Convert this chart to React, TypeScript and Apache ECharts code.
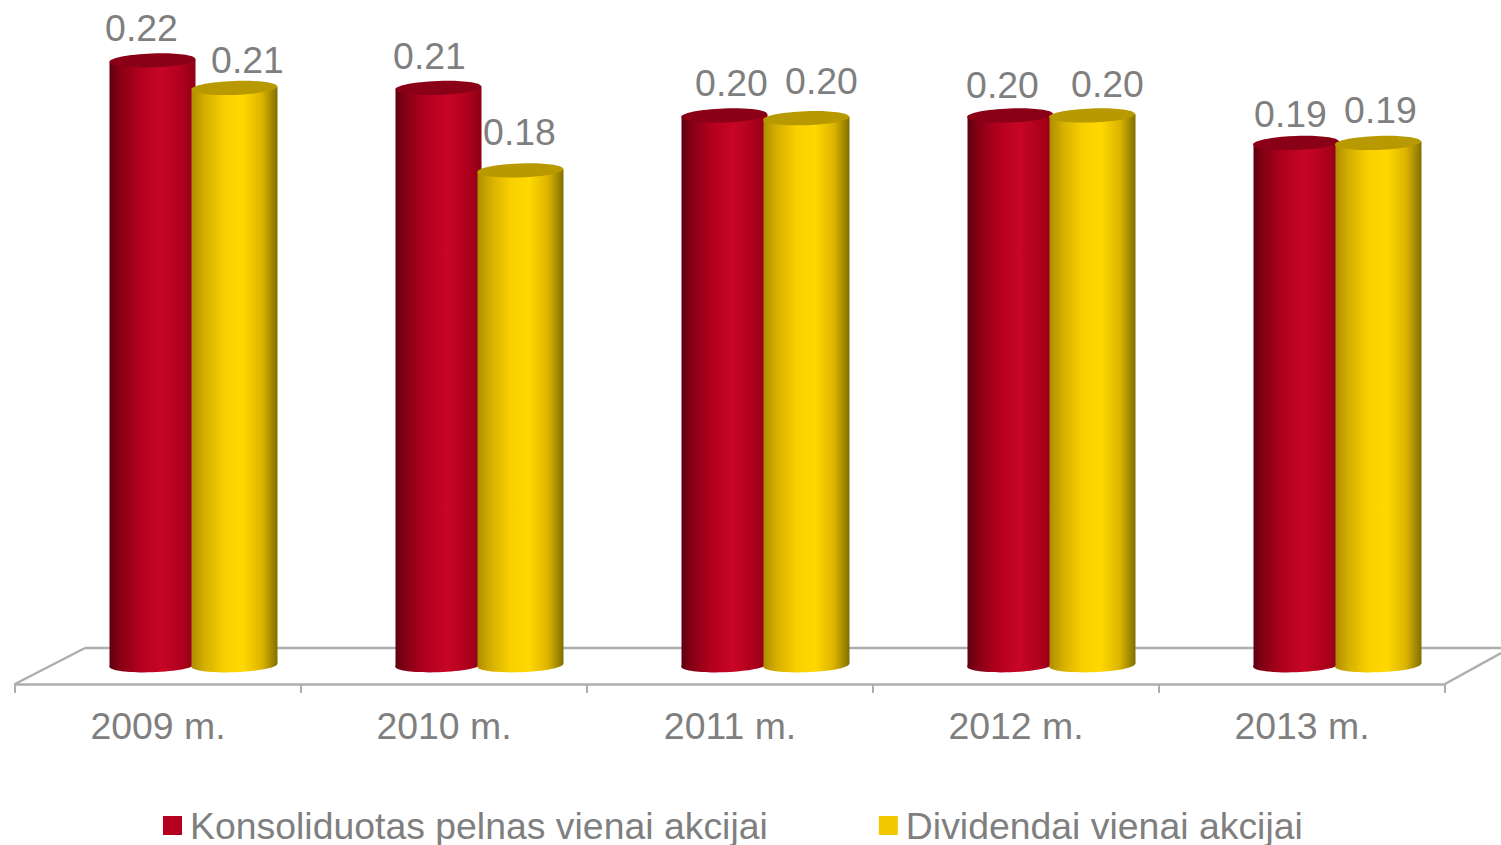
import React, { useEffect, useRef } from "react";
import * as echarts from "echarts";

const categories = ["2009 m.", "2010 m.", "2011 m.", "2012 m.", "2013 m."];
const profitName = "Konsoliduotas pelnas vienai akcijai";
const dividendName = "Dividendai vienai akcijai";
const profitValues = [0.22, 0.21, 0.2, 0.2, 0.19];
const dividendValues = [0.21, 0.18, 0.199, 0.2, 0.19];

const TEXT = "#7f7f7f";
const LINE = "#aeaeae";
const FONT = "'Liberation Sans', Arial, sans-serif";
const FONT_SIZE = 37.4;
const SCALE_W = 86 / 286;
const DEPTH_Y = 18.5;
const TILT = 0.035;
const RY = 7;

const redStops = [
  [0, "#5c0010"],
  [0.12, "#860014"],
  [0.35, "#b2001e"],
  [0.6, "#c80526"],
  [0.85, "#ac001c"],
  [1, "#8e0016"],
];
const yellowStops = [
  [0, "#ad8d00"],
  [0.15, "#d4ae00"],
  [0.38, "#f8d000"],
  [0.6, "#ffd800"],
  [0.82, "#dcb400"],
  [1, "#807000"],
];

const grad = (stops: any[]) =>
  new echarts.graphic.LinearGradient(0, 0, 1, 0, stops.map((s: any) => ({ offset: s[0], color: s[1] })));

function cylinder(stops: any[], topColor: string, dxPx: number, labelDx: number[], labelDy: number[]) {
  return (_p: any, api: any) => {
    const idx = api.value(0);
    const val = api.value(1);
    const [cx0, top0] = api.coord([idx, val]);
    const [, base0] = api.coord([idx, 0]);
    const band = api.size([1, 0])[0];
    const w = band * SCALE_W;
    const cx = cx0 + band * dxPx;
    const top = top0 - DEPTH_Y;
    const base = base0 - DEPTH_Y;
    const x0 = cx - w / 2;
    const x1 = cx + w / 2;
    const rise = (w / 2) * TILT;
    const ell = (y: number, fill: any) => ({
      type: "ellipse",
      shape: { cx, cy: y, rx: w / 2, ry: RY },
      originX: cx,
      originY: y,
      rotation: TILT,
      style: { fill },
    });
    return {
      type: "group",
      children: [
        ell(base, grad(stops)),
        {
          type: "polygon",
          shape: {
            points: [
              [x0, top + rise],
              [x1, top - rise],
              [x1, base - rise],
              [x0, base + rise],
            ],
          },
          style: { fill: grad(stops) },
        },
        ell(top, topColor),
        {
          type: "text",
          x: cx + labelDx[idx],
          y: top + labelDy[idx],
          style: {
            text: val.toFixed(2),
            fill: TEXT,
            font: `${FONT_SIZE}px ${FONT}`,
            align: "center",
            verticalAlign: "middle",
          },
        },
      ],
    };
  };
}

export default function App() {
  const ref = useRef<HTMLDivElement>(null);
  useEffect(() => {
    document.body.style.margin = "0";
    const chart = echarts.init(ref.current!, undefined, { renderer: "svg" });
    const floor = { stroke: LINE, lineWidth: 2.5 };
    chart.setOption({
      animation: false,
      backgroundColor: "#ffffff",
      grid: { left: 15, right: 56, top: 24, bottom: 161 },
      xAxis: {
        type: "category",
        data: categories,
        axisLine: { show: true, lineStyle: { color: LINE, width: 2.5 } },
        axisTick: { show: true, alignWithLabel: false, length: 9, lineStyle: { color: LINE, width: 2 } },
        axisLabel: { color: TEXT, fontFamily: FONT, fontSize: FONT_SIZE, margin: 23 },
      },
      yAxis: { type: "value", min: 0, max: 0.24, show: false },
      legend: {
        left: 158,
        top: 802,
        data: [profitName, dividendName],
        icon: "rect",
        itemWidth: 19,
        itemHeight: 19,
        itemGap: 111,
        textStyle: { color: TEXT, fontFamily: FONT, fontSize: FONT_SIZE, padding: [0, 0, 0, 3] },
      },
      graphic: [
        { type: "line", shape: { x1: 15, y1: 684, x2: 85, y2: 648 }, style: floor, silent: true },
        { type: "line", shape: { x1: 85, y1: 648, x2: 1501, y2: 648 }, style: floor, silent: true },
        { type: "line", shape: { x1: 1445, y1: 684, x2: 1501, y2: 653 }, style: floor, silent: true },
      ],
      series: [
        {
          name: profitName,
          type: "custom",
          itemStyle: { color: "#b5001e" },
          renderItem: cylinder(redStops, "#8a0016", -5.5 / 286, [-11, -9, 7, -8, -6], [-33, -32, -33, -31, -29]),
          encode: { x: 0, y: 1 },
          data: profitValues.map((v, i) => [i, v]),
          z: 3,
        },
        {
          name: dividendName,
          type: "custom",
          itemStyle: { color: "#f2c800" },
          renderItem: cylinder(yellowStops, "#b89a00", 76.5 / 286, [13, -1, 15, 15, 2], [-28, -39, -37, -32, -33]),
          encode: { x: 0, y: 1 },
          data: dividendValues.map((v, i) => [i, v]),
          z: 4,
        },
      ],
    });
    return () => chart.dispose();
  }, []);
  return <div ref={ref} style={{ width: 1501, height: 845 }} />;
}
